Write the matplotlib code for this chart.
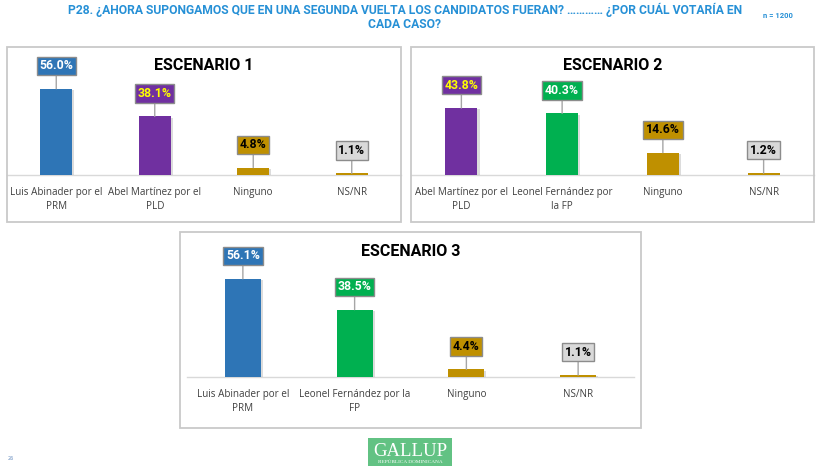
import matplotlib
matplotlib.use("Agg")
import matplotlib.pyplot as plt
from matplotlib.patches import Rectangle
import matplotlib.patheffects as pe

# ---------------- data ----------------
titles = ["ESCENARIO 1", "ESCENARIO 2", "ESCENARIO 3"]
cats1 = ["Luis Abinader por el\nPRM", "Abel Martínez por el\nPLD", "Ninguno", "NS/NR"]
cats2 = ["Abel Martínez por el\nPLD", "Leonel Fernández por\nla FP", "Ninguno", "NS/NR"]
cats3 = ["Luis Abinader por el\nPRM", "Leonel Fernández por la\nFP", "Ninguno", "NS/NR"]
vals1 = [56.0, 38.1, 4.8, 1.1]
vals2 = [43.8, 40.3, 14.6, 1.2]
vals3 = [56.1, 38.5, 4.4, 1.1]
labels1 = ["56.0%", "38.1%", "4.8%", "1.1%"]
labels2 = ["43.8%", "40.3%", "14.6%", "1.2%"]
labels3 = ["56.1%", "38.5%", "4.4%", "1.1%"]

BLUE, PURPLE, GREEN, GOLD, GRAY = "#2E75B6", "#7030A0", "#00B050", "#BF9000", "#D9D9D9"
bar_colors = [[BLUE, PURPLE, GOLD, GOLD], [PURPLE, GREEN, GOLD, GOLD], [BLUE, GREEN, GOLD, GOLD]]
box_colors = [[BLUE, PURPLE, GOLD, GRAY], [PURPLE, GREEN, GOLD, GRAY], [BLUE, GREEN, GOLD, GRAY]]
txt_colors = [["white", "#FFFF00", "black", "black"],
              ["#FFFF00", "white", "black", "black"],
              ["white", "white", "black", "black"]]

header1 = "P28. ¿AHORA SUPONGAMOS QUE EN UNA SEGUNDA VUELTA LOS CANDIDATOS FUERAN? ………… ¿POR CUÁL VOTARÍA EN"
header2 = "CADA CASO?"
n_text = "n = 1200"

# ---------------- layout (pixels, top origin) ----------------
W, H = 823, 472
fig = plt.figure(figsize=(W / 100, H / 100), dpi=100)
fig.patch.set_facecolor("white")

def fx(x):
    return x / W

def fy(y):
    return 1 - y / H

# panel boxes: (left, top, right, bottom)
panels = [(7, 47, 401, 222), (411, 47, 814, 222), (180, 232, 641, 428)]
# axes: (left, right, baseline, px per %)
axes_geo = [(7, 401, 175, 1.54), (411, 814, 175, 1.53), (187, 634, 377, 1.75)]
title_pos = [(204, 66), (613, 66), (411, 252)]
cats_all = [cats1, cats2, cats3]
vals_all = [vals1, vals2, vals3]
labels_all = [labels1, labels2, labels3]

for (l, t, r, b) in panels:
    fig.patches.append(Rectangle((fx(l), fy(b)), fx(r) - fx(l), fy(t) - fy(b),
                                 transform=fig.transFigure, fill=False,
                                 ec="#C9C9C9", lw=1.3, zorder=0))

for k in range(3):
    l, r, base, scale = axes_geo[k]
    top = panels[k][1] + 2
    ax = fig.add_axes([fx(l), fy(base), fx(r) - fx(l), fy(top) - fy(base)])
    ax.set_facecolor("none")
    ax.set_xlim(-0.5, 3.5)
    ax.set_ylim(0, (base - top) / scale)
    x = list(range(4))
    bars = ax.bar(x, vals_all[k], width=0.32, color=bar_colors[k], zorder=3)
    for bar in bars:
        bar.set_path_effects([pe.SimplePatchShadow(offset=(1.5, -1.0), alpha=0.25,
                                                   shadow_rgbFace="#777777"), pe.Normal()])
    for i, v in enumerate(vals_all[k]):
        ax.annotate(labels_all[k][i], xy=(i, v), xytext=(0, 16.5), textcoords="offset points",
                    ha="center", va="center", fontsize=8.8, fontweight="bold",
                    family="Roboto", color=txt_colors[k][i],
                    bbox=dict(boxstyle="square,pad=0.22", fc=box_colors[k][i], ec="#8C8C8C", lw=1),
                    arrowprops=dict(arrowstyle="-", color="#A6A6A6", lw=1,
                                    shrinkA=0, shrinkB=0), zorder=5)
    ax.set_xticks(x)
    ax.set_xticklabels(cats_all[k], fontsize=7.1, family="Open Sans", color="#404040",
                       linespacing=1.35)
    ax.tick_params(axis="x", length=0, pad=8.5)
    ax.set_yticks([])
    for s in ["top", "left", "right"]:
        ax.spines[s].set_visible(False)
    ax.spines["bottom"].set_color("#D9D9D9")
    ax.spines["bottom"].set_linewidth(1)
    tx, ty = title_pos[k]
    fig.text(fx(tx), fy(ty), titles[k], ha="center", va="center", fontsize=11.5,
             fontweight="bold", family="Roboto", color="black")

# header
fig.text(fx(405), fy(10), header1, ha="center", va="center", fontsize=8.7,
         fontweight="bold", family="Roboto", color="#2690D6")
fig.text(fx(405), fy(25), header2, ha="center", va="center", fontsize=8.7,
         fontweight="bold", family="Roboto", color="#2690D6")
fig.text(fx(778), fy(15), n_text, ha="center", va="center", fontsize=5.5,
         fontweight="bold", family="Roboto", color="#2690D6")

# logo
fig.patches.append(Rectangle((fx(368), fy(466)), fx(452) - fx(368), fy(438) - fy(466),
                             transform=fig.transFigure, fc="#62C283", ec="none"))
fig.text(fx(410), fy(451), "GALLUP", ha="center", va="center", fontsize=13.5,
         family="Liberation Serif", color="white")
fig.text(fx(410), fy(462), "REPÚBLICA DOMINICANA", ha="center", va="center", fontsize=3.8,
         family="Liberation Serif", color="white")
fig.text(fx(8), fy(458), "26", ha="left", va="center", fontsize=3.5, color="#6A8FC0")

fig.savefig("out.png", dpi=100, facecolor="white")
